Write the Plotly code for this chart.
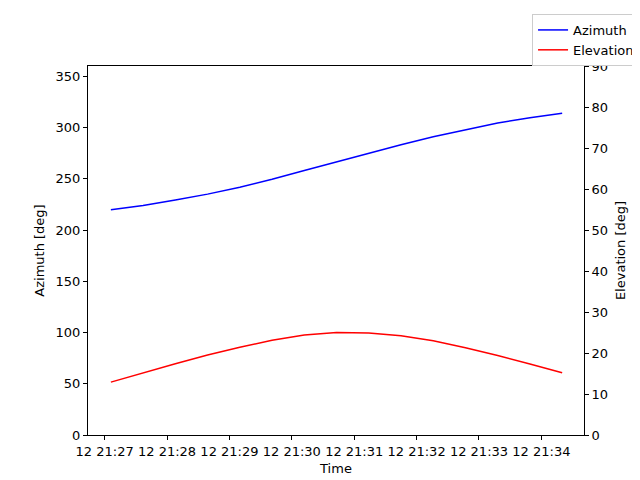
import plotly.graph_objects as go

times = ["2024-01-12 21:27:06","2024-01-12 21:27:37","2024-01-12 21:28:08","2024-01-12 21:28:39",
         "2024-01-12 21:29:10","2024-01-12 21:29:41","2024-01-12 21:30:12","2024-01-12 21:30:43",
         "2024-01-12 21:31:14","2024-01-12 21:31:45","2024-01-12 21:32:16","2024-01-12 21:32:47",
         "2024-01-12 21:33:18","2024-01-12 21:33:49","2024-01-12 21:34:20"]
azimuth = [219.7, 223.8, 229.2, 235.0, 241.8, 249.5, 258.0, 266.6, 275.0, 283.2, 291.0, 298.0, 304.3, 309.6, 314.0]
elevation = [12.9, 15.2, 17.4, 19.5, 21.4, 23.1, 24.4, 25.0, 24.9, 24.2, 23.0, 21.3, 19.4, 17.3, 15.2]
tick_vals = ["2024-01-12 21:%02d:00" % m for m in range(27, 35)]
tick_text = ["12 21:%02d" % m for m in range(27, 35)]

fig = go.Figure()
fig.add_trace(go.Scatter(x=times, y=azimuth, mode="lines", name="Azimuth", line=dict(color="blue", width=1.5)))
fig.add_trace(go.Scatter(x=times, y=elevation, mode="lines", name="Elevation", yaxis="y2", line=dict(color="red", width=1.5)))

f13 = dict(family="DejaVu Sans", size=13, color="black")
ax = dict(showgrid=False, zeroline=False, showline=True, linecolor="black", linewidth=1,
          ticks="outside", ticklen=4, tickcolor="black", automargin=False, tickfont=f13)
fig.update_layout(
    width=640, height=480, plot_bgcolor="white", paper_bgcolor="white",
    font=f13,
    margin=dict(l=80, r=64, t=58, b=53, autoexpand=False),
    xaxis=dict(**ax, mirror=True, range=["2024-01-12 21:26:44", "2024-01-12 21:34:41"],
               tickvals=tick_vals, ticktext=tick_text, title=dict(text="Time", standoff=6, font=f13)),
    yaxis=dict(**ax, range=[0, 360], dtick=50, title=dict(text="Azimuth [deg]", standoff=8, font=f13)),
    yaxis2=dict(**ax, overlaying="y", side="right", range=[0, 90], dtick=10,
                title=dict(text="Elevation [deg]", standoff=8, font=f13)),
    legend=dict(x=1.113, y=1.141, xanchor="right", yanchor="top", bgcolor="white",
                bordercolor="#cccccc", borderwidth=1, font=f13),
    showlegend=True,
)
fig.write_html("out.html")
